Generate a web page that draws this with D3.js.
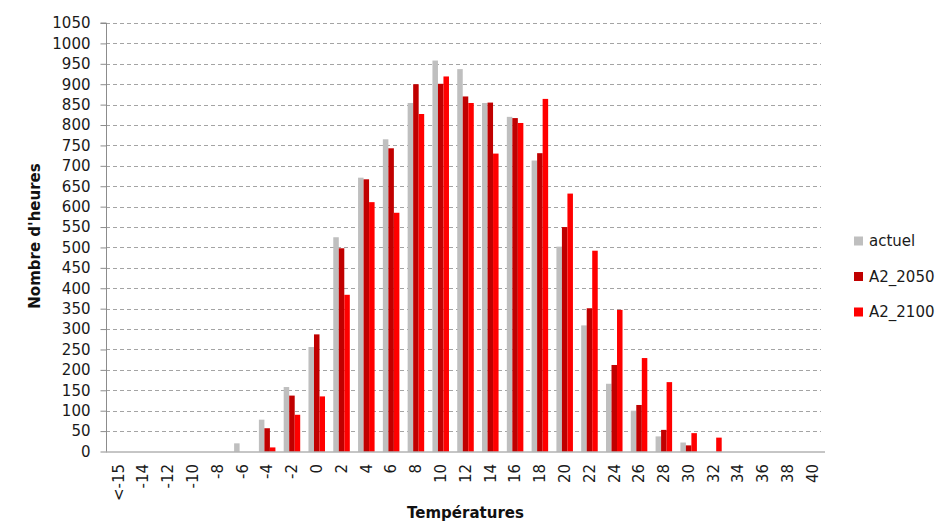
<!DOCTYPE html>
<html>
<head>
<meta charset="utf-8">
<script src="https://cdn.jsdelivr.net/npm/d3@7"></script>
<style>
  html, body { margin: 0; padding: 0; background: #fff; }
  svg { display: block; font-family: "DejaVu Sans", "Open Sans", sans-serif; }
</style>
</head>
<body>
<svg id="chart" width="939" height="524"></svg>
<script>
// Temperature classes (°C)
const categories = ["<-15", "-14", "-12", "-10", "-8", "-6", "-4", "-2", "0", "2", "4", "6", "8", "10",
  "12", "14", "16", "18", "20", "22", "24", "26", "28", "30", "32", "34", "36", "38", "40"];

// Hours per temperature class for each scenario
const actuel  = [0, 0, 0, 0, 0, 20, 78, 158, 256, 525, 671, 765, 854, 958, 937, 854, 820, 713, 502, 309, 166, 100, 37, 22, 0, 0, 0, 0, 0];
const a2_2050 = [0, 0, 0, 0, 0, 0, 57, 137, 287, 498, 667, 743, 900, 901, 870, 855, 817, 731, 550, 351, 212, 114, 53, 15, 0, 0, 0, 0, 0];
const a2_2100 = [0, 0, 0, 0, 0, 0, 10, 90, 135, 384, 611, 585, 827, 919, 854, 730, 805, 864, 632, 492, 347, 229, 170, 45, 34, 0, 0, 0, 0];

const seriesNames = ["actuel", "A2_2050", "A2_2100"];
const seriesValues = [actuel, a2_2050, a2_2100];
const colors = ["#BFBFBF", "#C00000", "#FF0000"];

const yTicks = d3.range(0, 1051, 50);

const svg = d3.select("#chart");
const m = { left: 106, right: 825, top: 23, bottom: 451.5 };

const x = d3.scaleBand().domain(categories).range([m.left, m.right]).paddingInner(0).paddingOuter(0);
const barW = x.bandwidth() / 4.5;
const xs = d3.scaleBand().domain(seriesNames).range([0, barW * 3]);
const y = d3.scaleLinear().domain([0, 1050]).range([m.bottom, m.top]);

// Horizontal dashed gridlines
svg.append("g")
  .selectAll("line")
  .data(yTicks.filter(d => d > 0))
  .join("line")
  .attr("x1", m.left).attr("x2", m.right - 4)
  .attr("y1", d => Math.round(y(d)) + 0.5).attr("y2", d => Math.round(y(d)) + 0.5)
  .attr("stroke", "#a4a4a4").attr("stroke-width", 1)
  .attr("stroke-dasharray", "4,3");

// Bars
const groups = svg.append("g")
  .selectAll("g")
  .data(seriesNames.map((name, i) => ({ name, values: seriesValues[i], color: colors[i] })))
  .join("g")
  .attr("fill", d => d.color);

groups.selectAll("rect")
  .data(s => s.values.map((v, j) => ({ name: s.name, cat: categories[j], v })))
  .join("rect")
  .attr("x", d => x(d.cat) + (x.bandwidth() - barW * 3) / 2 + xs(d.name))
  .attr("width", barW)
  .attr("y", d => y(d.v))
  .attr("height", d => y(0) - y(d.v));

// Y axis
const yAxis = svg.append("g")
  .attr("transform", `translate(${m.left + 0.5},0)`)
  .call(d3.axisLeft(y).tickValues(yTicks).tickSize(6).tickPadding(10).tickFormat(d3.format("d")));
yAxis.select(".domain").attr("stroke", "#8c8c8c").attr("d", `M-6,${y(1050)}H0V${y(0)}`);
yAxis.selectAll(".tick line").attr("stroke", "#8c8c8c");
yAxis.selectAll(".tick text")
  .attr("font-family", "DejaVu Sans, sans-serif")
  .attr("font-size", 15).attr("fill", "#1a1a1a");

// X axis
const xAxis = svg.append("g")
  .attr("transform", `translate(0,${m.bottom + 0.5})`)
  .call(d3.axisBottom(x).tickSize(0).tickPadding(0));
xAxis.select(".domain").attr("stroke", "#8c8c8c").attr("d", `M${m.left},0H${m.right}`);
xAxis.selectAll(".tick text")
  .attr("font-family", "DejaVu Sans, sans-serif")
  .attr("font-size", 15).attr("fill", "#1a1a1a")
  .attr("text-anchor", "end")
  .attr("dy", "0.35em")
  .attr("transform", "translate(0,12) rotate(-90)")
  .attr("x", 0).attr("y", 0);

// Axis titles
svg.append("text")
  .attr("transform", `translate(40,236) rotate(-90)`)
  .attr("text-anchor", "middle")
  .attr("font-family", "DejaVu Sans, sans-serif")
  .attr("font-weight", "bold").attr("font-size", 15).attr("fill", "#111")
  .text("Nombre d'heures");

svg.append("text")
  .attr("x", (m.left + m.right) / 2).attr("y", 518)
  .attr("text-anchor", "middle")
  .attr("font-family", "DejaVu Sans, sans-serif")
  .attr("font-weight", "bold").attr("font-size", 15).attr("fill", "#111")
  .text("Températures");

// Legend
const legend = svg.append("g")
  .selectAll("g")
  .data(seriesNames)
  .join("g")
  .attr("transform", (d, i) => `translate(854,${241 + i * 35.5})`);
legend.append("rect")
  .attr("x", 0).attr("y", -4.5).attr("width", 9).attr("height", 9)
  .attr("fill", (d, i) => colors[i]);
legend.append("text")
  .attr("x", 15).attr("y", 0).attr("dy", "0.35em")
  .attr("font-family", "DejaVu Sans, sans-serif")
  .attr("font-size", 15).attr("fill", "#1a1a1a")
  .text(d => d);
</script>
</body>
</html>
